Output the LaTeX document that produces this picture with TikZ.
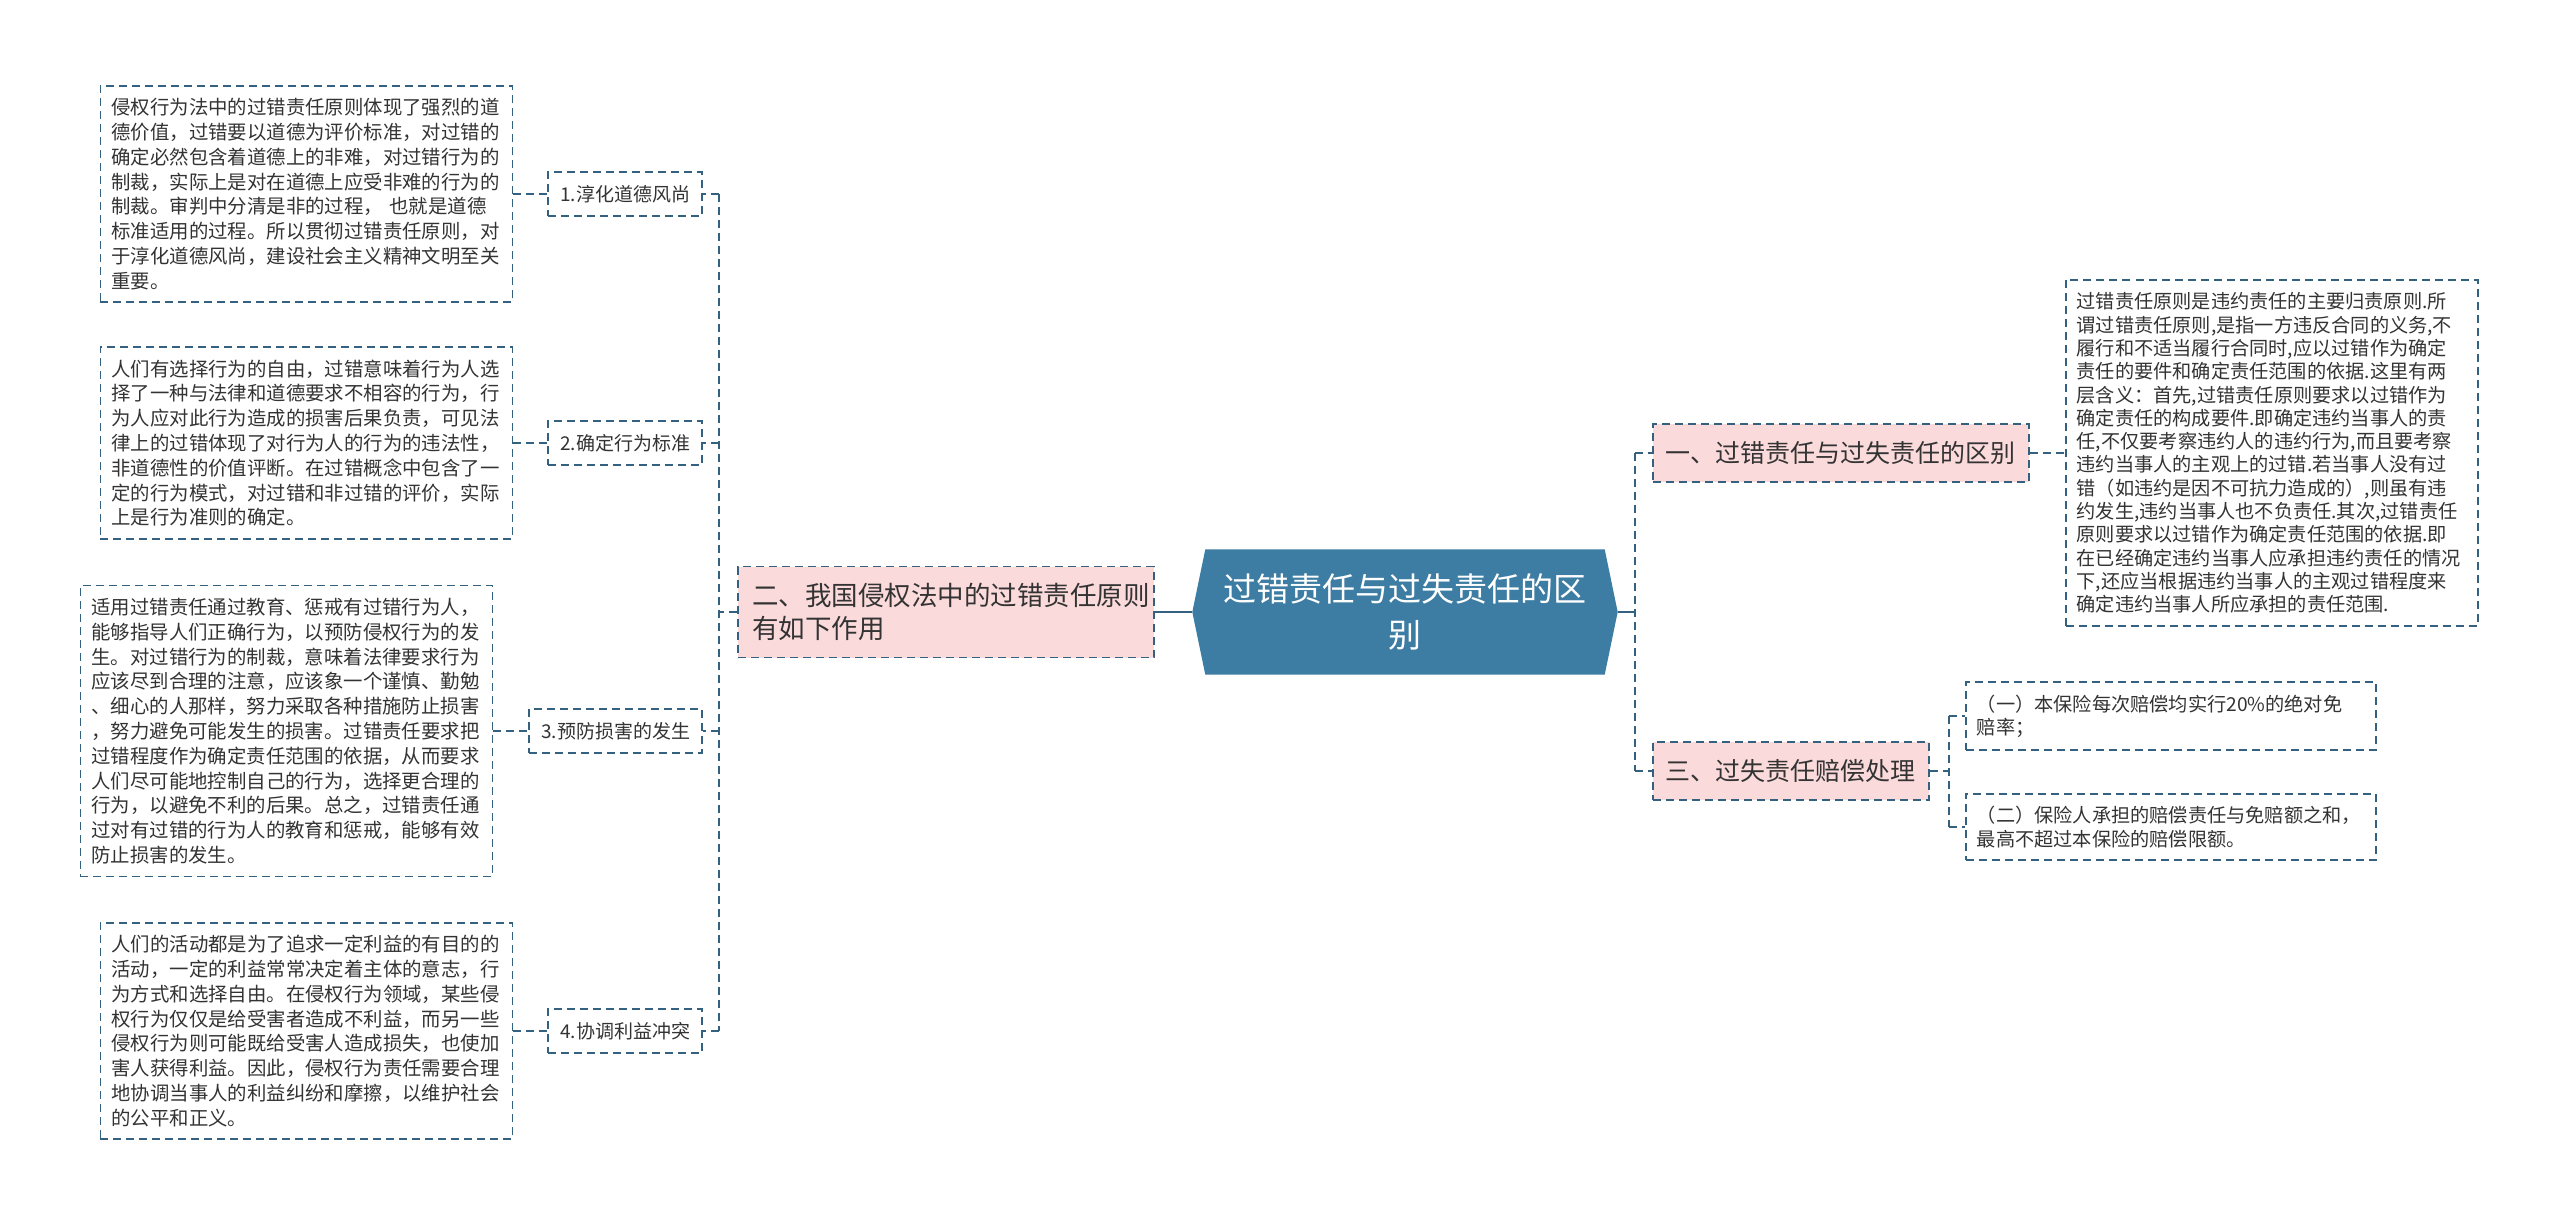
\documentclass[tikz,border=0pt]{standalone}
\usepackage{fontspec}
\setmainfont{Noto Sans CJK SC}
\usetikzlibrary{positioning,backgrounds}
\definecolor{rootblue}{HTML}{3E7DA3}
\definecolor{linkteal}{HTML}{33617F}
\definecolor{branchpink}{HTML}{FBDADB}
\definecolor{txtgray}{HTML}{333333}

\begin{document}
\begin{tikzpicture}[x=1pt, y=-1pt, text=txtgray]

  \tikzset{root/.style={minimum width=425pt, minimum height=125pt, inner sep=0pt,
             align=center, text=white, font=\fontsize{33}{46}\selectfont},
           dashbox/.style={draw=linkteal, line width=1.8pt, dash pattern=on 8pt off 5pt},
           branch/.style={dashbox, fill=branchpink, align=left, inner xsep=13pt,
             font=\fontsize{25}{33}\selectfont},
           topic/.style={dashbox, fill=white, inner xsep=12pt, inner ysep=0pt,
             minimum height=44pt, font=\fontsize{19}{24}\selectfont},
           leaf/.style={dashbox, fill=white, align=left, text width=390pt,
             inner xsep=11pt, inner ysep=12.5pt, font=\fontsize{19.4}{24.8}\selectfont},
           link/.style={draw=linkteal, line width=1.8pt, dash pattern=on 8pt off 5pt},
           stem/.style={draw=linkteal, line width=2.2pt}}

  \useasboundingbox (0,0) rectangle (2560,1226);

  % centre
  \node[root] (root) at (1405,612) {过错责任与过失责任的区\\别};
  \begin{scope}[on background layer]
    \fill[rootblue] (root.west) -- ([xshift=13pt]root.north west)
      -- ([xshift=-13pt]root.north east) -- (root.east)
      -- ([xshift=-13pt]root.south east) -- ([xshift=13pt]root.south west) -- cycle;
  \end{scope}

  % left branch
  \node[branch, anchor=east, text width=388pt, inner xsep=14pt, minimum height=91pt,
        font=\fontsize{26.5}{33}\selectfont] (b2) at (1155,612) {二、我国侵权法中的过错责任原则\\有如下作用};
  \draw[stem] (root.west) -- (root.west -| b2.east);
  \draw[link] (b2.west) -- ++(-18,0) coordinate (lspine);

  \foreach \n/\y/\t in {1/194/1.淳化道德风尚, 2/443/2.确定行为标准,
                        3/731/3.预防损害的发生, 4/1031/4.协调利益冲突} {
    \node[topic, anchor=east] (t\n) at (703,\y) {\t};
    \draw[link] (t\n.east -| lspine) -- (t\n.east);
  }
  \draw[link] (t1.east -| lspine) -- (t4.east -| lspine);

  \node[leaf, left=34pt of t1] (l1) {侵权行为法中的过错责任原则体现了强烈的道\\
    德价值，过错要以道德为评价标准，对过错的\\
    确定必然包含着道德上的非难，对过错行为的\\
    制裁，实际上是对在道德上应受非难的行为的\\
    制裁。审判中分清是非的过程， 也就是道德\\
    标准适用的过程。所以贯彻过错责任原则，对\\
    于淳化道德风尚，建设社会主义精神文明至关\\
    重要。};
  \node[leaf, left=34pt of t2] (l2) {人们有选择行为的自由，过错意味着行为人选\\
    择了一种与法律和道德要求不相容的行为，行\\
    为人应对此行为造成的损害后果负责，可见法\\
    律上的过错体现了对行为人的行为的违法性，\\
    非道德性的价值评断。在过错概念中包含了一\\
    定的行为模式，对过错和非过错的评价，实际\\
    上是行为准则的确定。};
  \node[leaf, left=35pt of t3] (l3) {适用过错责任通过教育、惩戒有过错行为人，\\
    能够指导人们正确行为，以预防侵权行为的发\\
    生。对过错行为的制裁，意味着法律要求行为\\
    应该尽到合理的注意，应该象一个谨慎、勤勉\\
    、细心的人那样，努力采取各种措施防止损害\\
    ，努力避免可能发生的损害。过错责任要求把\\
    过错程度作为确定责任范围的依据，从而要求\\
    人们尽可能地控制自己的行为，选择更合理的\\
    行为，以避免不利的后果。总之，过错责任通\\
    过对有过错的行为人的教育和惩戒，能够有效\\
    防止损害的发生。};
  \node[leaf, left=34pt of t4] (l4) {人们的活动都是为了追求一定利益的有目的的\\
    活动，一定的利益常常决定着主体的意志，行\\
    为方式和选择自由。在侵权行为领域，某些侵\\
    权行为仅仅是给受害者造成不利益，而另一些\\
    侵权行为则可能既给受害人造成损失，也使加\\
    害人获得利益。因此，侵权行为责任需要合理\\
    地协调当事人的利益纠纷和摩擦，以维护社会\\
    的公平和正义。};
  \foreach \n in {1,...,4}
    \draw[link] (l\n.east) -- (t\n.west);

  % right branches
  \node[branch, anchor=west, minimum height=58pt] (b1) at (1652,453) {一、过错责任与过失责任的区别};
  \node[branch, anchor=west, minimum height=58pt] (b3) at (1652,771) {三、过失责任赔偿处理};
  \draw[stem] (root.east) -- ++(17,0) coordinate (rspine);
  \draw[link] (b1.west -| rspine) -- (b3.west -| rspine);
  \draw[link] (b1.west -| rspine) -- (b1.west);
  \draw[link] (b3.west -| rspine) -- (b3.west);

  \node[leaf, right=35pt of b1, font=\fontsize{19.2}{23.3}\selectfont] (r1) {过错责任原则是违约责任的主要归责原则.所\\
    谓过错责任原则,是指一方违反合同的义务,不\\
    履行和不适当履行合同时,应以过错作为确定\\
    责任的要件和确定责任范围的依据.这里有两\\
    层含义：首先,过错责任原则要求以过错作为\\
    确定责任的构成要件.即确定违约当事人的责\\
    任,不仅要考察违约人的违约行为,而且要考察\\
    违约当事人的主观上的过错.若当事人没有过\\
    错（如违约是因不可抗力造成的）,则虽有违\\
    约发生,违约当事人也不负责任.其次,过错责任\\
    原则要求以过错作为确定责任范围的依据.即\\
    在已经确定违约当事人应承担违约责任的情况\\
    下,还应当根据违约当事人的主观过错程度来\\
    确定违约当事人所应承担的责任范围.};
  \draw[link] (b1.east) -- (r1.west);

  \node[leaf, anchor=west, text width=388pt, font=\fontsize{19.2}{23.3}\selectfont] (d1) at (1965,716)
    {（一）本保险每次赔偿均实行20\%的绝对免\\赔率；};
  \node[leaf, anchor=west, text width=388pt, font=\fontsize{19.2}{23.3}\selectfont] (d2) at (1965,827)
    {（二）保险人承担的赔偿责任与免赔额之和，\\最高不超过本保险的赔偿限额。};
  \draw[link] (b3.east) -- ++(19,0) coordinate (dspine);
  \draw[link] (d1.west -| dspine) -- (d2.west -| dspine);
  \draw[link] (d1.west -| dspine) -- (d1.west);
  \draw[link] (d2.west -| dspine) -- (d2.west);

\end{tikzpicture}
\end{document}
